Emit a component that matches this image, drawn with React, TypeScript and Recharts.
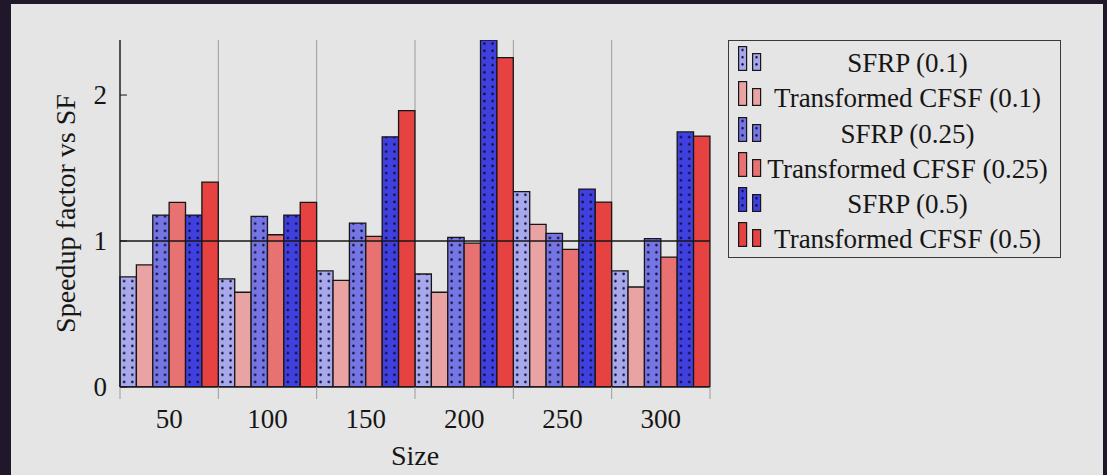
import { BarChart, Bar, XAxis, YAxis, ReferenceLine, Legend, Label, CartesianGrid } from "recharts";

// values, one array per series
const sizes = ["50", "100", "150", "200", "250", "300"];
const sfrp01 = [0.755, 0.74, 0.795, 0.774, 1.338, 0.795];
const tcfsf01 = [0.836, 0.649, 0.731, 0.649, 1.114, 0.685];
const sfrp025 = [1.178, 1.169, 1.123, 1.025, 1.053, 1.016];
const tcfsf025 = [1.265, 1.043, 1.032, 0.985, 0.943, 0.89];
const sfrp05 = [1.178, 1.178, 1.714, 2.377, 1.356, 1.747];
const tcfsf05 = [1.404, 1.265, 1.893, 2.256, 1.267, 1.719];
const yTicks = [0, 1, 2];

const SERIES = [
  { key: "sfrp01", name: "SFRP (0.1)", values: sfrp01, color: "#a8a8ec", dots: true },
  { key: "tcfsf01", name: "Transformed CFSF (0.1)", values: tcfsf01, color: "#eaa3a3", dots: false },
  { key: "sfrp025", name: "SFRP (0.25)", values: sfrp025, color: "#7575e4", dots: true },
  { key: "tcfsf025", name: "Transformed CFSF (0.25)", values: tcfsf025, color: "#e87272", dots: false },
  { key: "sfrp05", name: "SFRP (0.5)", values: sfrp05, color: "#4040e0", dots: true },
  { key: "tcfsf05", name: "Transformed CFSF (0.5)", values: tcfsf05, color: "#e64242", dots: false },
];

const data = sizes.map((size, i) => {
  const row: Record<string, number | string> = { size };
  for (const s of SERIES) row[s.key] = s.values[i];
  return row;
});

const yMax = Math.max(...SERIES.flatMap((s) => s.values));

const W = 1092;
const H = 471;
const MARGIN = { top: 36, right: 393, bottom: 8, left: 0 };
const Y_AXIS_W = 109;
const X_AXIS_H = 80;
const PLOT_LEFT = MARGIN.left + Y_AXIS_W;
const PLOT_W = W - MARGIN.right - PLOT_LEFT;
const BAND = PLOT_W / sizes.length;
const BAR_W = BAND / SERIES.length - 0.01;
const DOT_H = 7.2;

const FONT = "'Liberation Serif', 'Times New Roman', serif";
const FS = 27;
const INK = "#161616";
const DOT = "#0d0d30";
const GRID = "#9c9c9c";
const PANEL = "#e5e5e5";

// gray marks at the group boundaries, sticking out below / above the box
function edgeLines(x: number, index: number, y1: number, y2: number) {
  const xs = [x - BAND / 2];
  if (index === sizes.length - 1) xs.push(x + BAND / 2);
  return xs.map((xx, k) => (
    <line key={k} x1={xx} x2={xx} y1={y1} y2={y2} stroke={GRID} strokeWidth={1} />
  ));
}

function BottomTick(props: any) {
  const { x, y, payload, index } = props;
  return (
    <g>
      {edgeLines(x, index, y, y + 12)}
      <text x={x} y={y + 41} textAnchor="middle" fontSize={FS} fill={INK}>
        {payload.value}
      </text>
    </g>
  );
}

function TopTick(props: any) {
  const { x, y, index } = props;
  return <g>{edgeLines(x, index, y - 13, y)}</g>;
}

function LeftTick(props: any) {
  const { x, y, payload } = props;
  return (
    <g>
      <text x={x} y={y} dy="0.35em" textAnchor="end" fontSize={FS} fill={INK}>
        {payload.value}
      </text>
      <line x1={x + 13} x2={x + 20} y1={y} y2={y} stroke={INK} strokeWidth={1} />
    </g>
  );
}

function RightTick(props: any) {
  const { x, y } = props;
  return <line x1={x} x2={x - 7} y1={y} y2={y} stroke={INK} strokeWidth={1} />;
}

function Swatch({ s }: { s: (typeof SERIES)[number] }) {
  const fill = s.dots ? `url(#lg-${s.key})` : s.color;
  return (
    <svg width={24} height={25} style={{ position: "absolute", left: 9, top: 4 }}>
      <defs>
        <pattern id={`lg-${s.key}`} patternUnits="userSpaceOnUse" width={14} height={DOT_H}>
          <rect width={14} height={DOT_H} fill={s.color} />
          <circle cx={4.5} cy={4} r={1.2} fill={DOT} />
        </pattern>
      </defs>
      <rect x={0.6} y={0.6} width={8} height={23.8} fill={fill} stroke={INK} strokeWidth={1.2} />
      <rect x={14.6} y={7.6} width={8} height={16.8} fill={fill} stroke={INK} strokeWidth={1.2} />
    </svg>
  );
}

function renderLegend(props: any) {
  const items = (props.payload ?? []) as any[];
  return (
    <div
      style={{
        width: 333,
        height: 218,
        boxSizing: "border-box",
        border: "1px solid #3a3a3a",
        background: PANEL,
        paddingTop: 1,
        fontFamily: FONT,
        fontSize: FS,
        color: INK,
      }}
    >
      {SERIES.map((s) => {
        const it = items.find((p) => p.dataKey === s.key);
        return (
          <div key={s.key} style={{ position: "relative", height: 35.3 }}>
            <Swatch s={s} />
            <div
              style={{
                position: "absolute",
                left: 34,
                right: 8,
                top: 4,
                lineHeight: "35px",
                textAlign: "center",
                whiteSpace: "nowrap",
              }}
            >
              {it ? it.value : s.name}
            </div>
          </div>
        );
      })}
    </div>
  );
}

export default function App() {
  return (
    <div style={{ position: "fixed", left: 0, top: 0, width: 1107, height: 475, background: "#20182a" }}>
      <div
        style={{
          position: "absolute",
          left: 11,
          top: 4,
          width: W,
          height: H,
          background: PANEL,
          fontFamily: FONT,
        }}
      >
        <BarChart
          width={W}
          height={H}
          data={data}
          margin={MARGIN}
          barCategoryGap={0}
          barGap={0}
          barSize={BAR_W}
        >
          <defs>
            {SERIES.filter((s) => s.dots).map((s) => (
              <pattern
                key={s.key}
                id={`dots-${s.key}`}
                patternUnits="userSpaceOnUse"
                x={PLOT_LEFT}
                y={0}
                width={BAR_W / 2}
                height={DOT_H}
              >
                <rect width={BAR_W / 2} height={DOT_H} fill={s.color} />
                <circle cx={BAR_W / 4} cy={DOT_H / 2} r={1.25} fill={DOT} />
              </pattern>
            ))}
          </defs>
          <CartesianGrid
            horizontal={false}
            stroke={GRID}
            strokeDasharray=""
            verticalCoordinatesGenerator={({ offset }: any) =>
              sizes.map((_, i) => offset.left + (i * offset.width) / sizes.length)
            }
          />
          <XAxis
            dataKey="size"
            height={X_AXIS_H}
            interval={0}
            axisLine={{ stroke: INK, strokeWidth: 1.3 }}
            tickLine={false}
            tickSize={0}
            tickMargin={0}
            tick={BottomTick}
          >
            <Label value="Size" position="insideBottom" offset={2} fill={INK} fontSize={28} />
          </XAxis>
          <XAxis
            xAxisId="top"
            dataKey="size"
            orientation="top"
            height={0}
            interval={0}
            axisLine={{ stroke: INK, strokeWidth: 1.3 }}
            tickLine={false}
            tickSize={0}
            tickMargin={0}
            tick={TopTick}
          />
          <YAxis
            domain={[0, yMax]}
            ticks={yTicks}
            allowDataOverflow
            width={Y_AXIS_W}
            axisLine={{ stroke: INK, strokeWidth: 1.3 }}
            tickLine={false}
            tickSize={0}
            tickMargin={13}
            tick={LeftTick}
          >
            <Label value="Speedup factor vs SF" angle={-90} position="center" fill={INK} fontSize={28} />
          </YAxis>
          <YAxis
            yAxisId="right"
            orientation="right"
            domain={[0, yMax]}
            ticks={yTicks}
            allowDataOverflow
            width={0}
            axisLine={{ stroke: INK, strokeWidth: 1.3 }}
            tickLine={false}
            tickSize={0}
            tickMargin={0}
            tick={RightTick}
          />
          {SERIES.map((s) => (
            <Bar
              key={s.key}
              dataKey={s.key}
              name={s.name}
              fill={s.dots ? `url(#dots-${s.key})` : s.color}
              stroke={INK}
              strokeWidth={1.3}
              isAnimationActive={false}
            />
          ))}
          <ReferenceLine y={1} stroke={INK} strokeWidth={1.5} />
          <Legend
            content={renderLegend}
            layout="vertical"
            align="center"
            verticalAlign="middle"
            wrapperStyle={{ left: 717, top: 36, width: 333, height: 218 }}
          />
        </BarChart>
      </div>
    </div>
  );
}
